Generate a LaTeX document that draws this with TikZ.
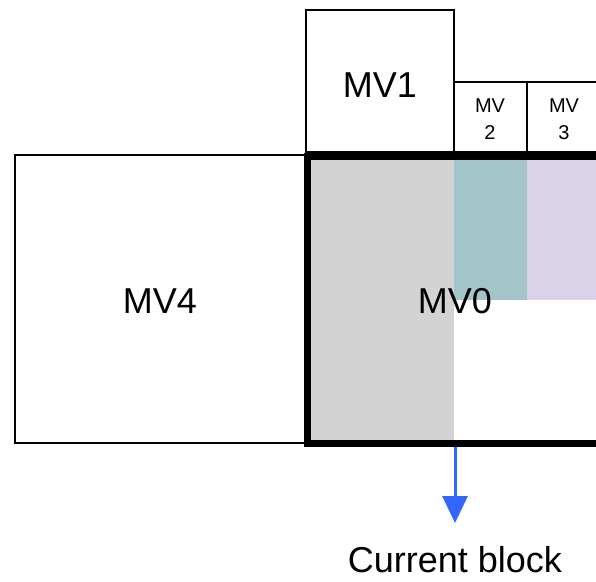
\documentclass[tikz,border=0pt]{standalone}
\usepackage{fontspec}
\setmainfont{Liberation Sans}
\usetikzlibrary{arrows.meta}
\definecolor{cellgray}{HTML}{D3D3D3}
\definecolor{cellteal}{HTML}{A3C4C8}
\definecolor{celllilac}{HTML}{DAD2E8}
\definecolor{arrowblue}{HTML}{3366FF}
\begin{document}
\begin{tikzpicture}[x=1pt,y=-1pt,
  blk/.style={draw=black, line width=1.2pt, rectangle, inner sep=0pt, outer sep=0pt, anchor=north west},
  bigtxt/.style={font=\fontsize{36}{40}\selectfont, anchor=base, inner sep=0pt},
  smalltxt/.style={font=\fontsize{20}{27}\selectfont, align=center}]
\useasboundingbox (0,0) rectangle (596,581);
\begin{scope}
\clip (0,0) rectangle (596,581);
% neighbouring blocks
\node[blk, minimum width=290pt, minimum height=288pt] (mv4) at (15,155) {};
\node[blk, minimum width=148pt, minimum height=142pt] (mv1) at (306,10) {};
\node[blk, minimum width=73pt, minimum height=70pt] (mv2) at (454,82) {};
\node[blk, minimum width=100pt, minimum height=70pt] (mv3) at (527,82) {};
% shaded regions of the current block
\fill[cellgray] (307,156) rectangle (454,443);
\fill[cellteal] (454,156) rectangle (527,300);
\fill[celllilac] (527,156) rectangle (640,300);
% current block outline
\node[draw=black, line width=7pt, rectangle, inner sep=0pt, outer sep=0pt, anchor=north west,
      minimum width=340pt, minimum height=287pt] (mv0) at (307,156) {};
\end{scope}
% labels
\node[bigtxt] (t4) at (160,313) {MV4};
\node[bigtxt] (t1) at (380,97) {MV1};
\node[smalltxt] (t2) at (490,119.5) {MV\\2};
\node[smalltxt] (t3) at (564,119.5) {MV\\3};
\node[bigtxt] (t0) at (455,313) {MV0};
\node[bigtxt] (cur) at (455,572) {Current block};
% arrow to the caption
\coordinate (astart) at (455,447);
\coordinate (aend) at (455,523);
\draw[arrowblue, line width=3pt, -{Triangle[width=25pt,length=27pt]}] (astart) -- (aend);
\end{tikzpicture}
\end{document}
